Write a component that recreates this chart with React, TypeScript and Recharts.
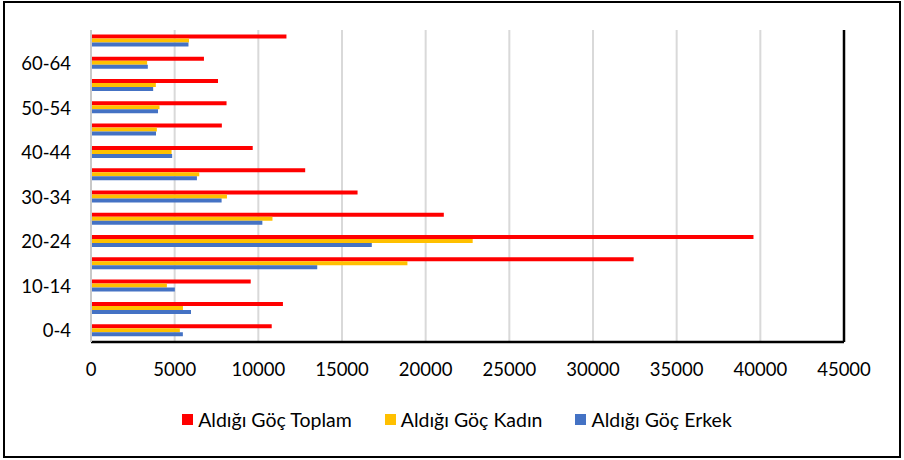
import React from 'react'
import { BarChart, Bar, XAxis, YAxis, CartesianGrid, Legend, ReferenceLine } from 'recharts'

// age groups, bottom to top
const ageGroups = ['0-4', '5-9', '10-14', '15-19', '20-24', '25-29', '30-34', '35-39', '40-44', '45-49', '50-54', '55-59', '60-64', '65+']

const toplam = [10800, 11470, 9545, 32430, 39590, 21085, 15930, 12800, 9665, 7820, 8100, 7590, 6750, 11680]
const kadin = [5310, 5495, 4535, 18910, 22810, 10845, 8125, 6470, 4815, 3935, 4095, 3875, 3355, 5855]
const erkek = [5490, 5975, 5010, 13520, 16780, 10240, 7805, 6330, 4850, 3885, 4005, 3715, 3395, 5825]

const xTicks = [0, 5000, 10000, 15000, 20000, 25000, 30000, 35000, 40000, 45000]

const seriesNames = ['Aldığı Göç Toplam', 'Aldığı Göç Kadın', 'Aldığı Göç Erkek']
const seriesColors = ['#ff0000', '#ffc000', '#4472c4']

const data = ageGroups.map((age, i) => ({
  age,
  toplam: toplam[i],
  kadin: kadin[i],
  erkek: erkek[i],
}))

const FONT = 'Lato, "Open Sans", sans-serif'

const LegendContent = () => (
  <div
    style={{
      display: 'flex',
      justifyContent: 'center',
      alignItems: 'center',
      gap: 33,
      paddingLeft: 10,
      fontFamily: FONT,
      fontSize: 19.5,
      color: '#000',
    }}
  >
    {seriesNames.map((name, i) => (
      <div key={name} style={{ display: 'flex', alignItems: 'center' }}>
        <span style={{ width: 11, height: 11, background: seriesColors[i], marginRight: 5, display: 'inline-block' }} />
        <span>{name}</span>
      </div>
    ))}
  </div>
)

export default function App() {
  return (
    <div style={{ position: 'fixed', left: 0, top: 0, width: 904, height: 460, background: '#fff' }}>
      {/* outer frame */}
      <div
        style={{
          position: 'absolute',
          left: 3,
          top: 1,
          width: 898,
          height: 457,
          border: '2px solid #000',
          boxSizing: 'border-box',
        }}
      />
      <div style={{ position: 'absolute', left: 0, top: 0 }}>
        <BarChart
          width={904}
          height={460}
          data={data}
          layout="vertical"
          margin={{ top: 30, right: 60, left: 11, bottom: 78 }}
          barCategoryGap="20%"
          barGap={0}
        >
          <CartesianGrid horizontal={false} stroke="#d9d9d9" strokeWidth={2} />
          <XAxis
            type="number"
            domain={[0, 45000]}
            ticks={xTicks}
            height={40}
            axisLine={{ stroke: '#000', strokeWidth: 2.5 }}
            tickLine={false}
            tickSize={0}
            tickMargin={21}
            tick={{ fill: '#000', fontSize: 18.5, fontFamily: FONT }}
          />
          <XAxis
            xAxisId="top"
            orientation="top"
            type="number"
            domain={[0, 45000]}
            height={0}
            tick={false}
            tickLine={false}
            axisLine={{ stroke: '#000', strokeWidth: 2.5 }}
          />
          <YAxis
            type="category"
            dataKey="age"
            reversed
            interval={1}
            width={80}
            axisLine={{ stroke: '#c8c8c8', strokeWidth: 2 }}
            tickLine={false}
            tickSize={0}
            tickMargin={20}
            tick={{ fill: '#000', fontSize: 18.5, fontFamily: FONT }}
          />
          <ReferenceLine x={45000} stroke="#000" strokeWidth={2.5} />
          <Legend
            verticalAlign="middle"
            align="center"
            wrapperStyle={{ top: 408, left: 0, width: 904 }}
            content={LegendContent}
          />
          <Bar dataKey="toplam" name={seriesNames[0]} fill={seriesColors[0]} isAnimationActive={false} />
          <Bar dataKey="kadin" name={seriesNames[1]} fill={seriesColors[1]} isAnimationActive={false} />
          <Bar dataKey="erkek" name={seriesNames[2]} fill={seriesColors[2]} isAnimationActive={false} />
        </BarChart>
      </div>
    </div>
  )
}
